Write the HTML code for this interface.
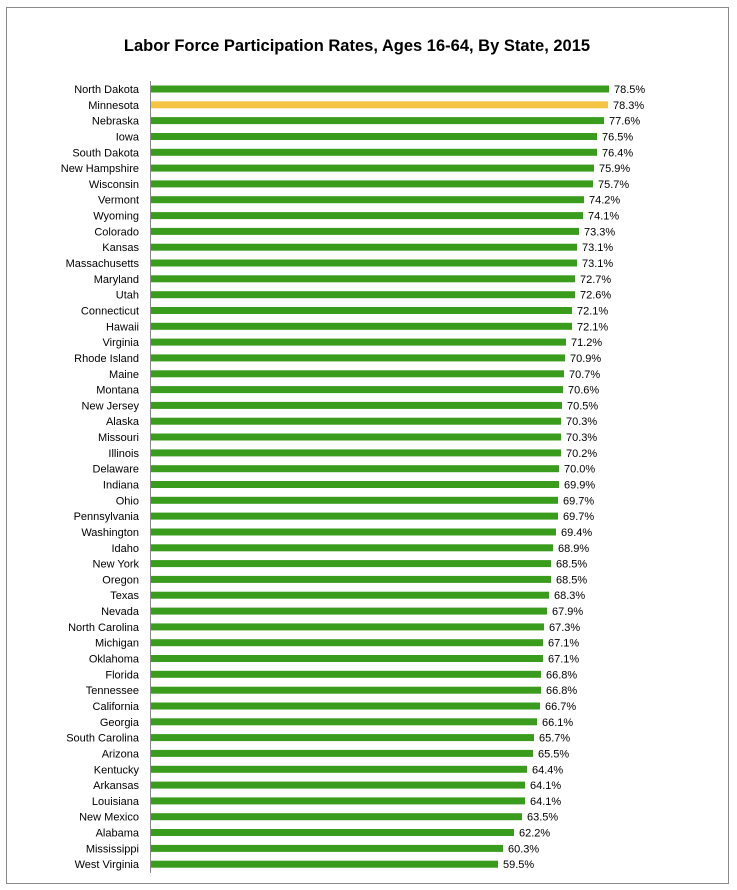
<!DOCTYPE html>
<html><head><meta charset="utf-8"><style>
html,body{margin:0;padding:0;background:#fff;}
svg{display:block;font-family:"Liberation Sans",sans-serif;}
</style></head><body>
<svg width="737" height="890" viewBox="0 0 737 890">
<rect x="6.5" y="7.5" width="722" height="876" fill="#fff" stroke="#8a8a8a" stroke-width="1"/>
<text x="357" y="51" font-size="16.5" font-weight="bold" text-anchor="middle" fill="#000">Labor Force Participation Rates, Ages 16-64, By State, 2015</text>
<line x1="150.5" y1="81" x2="150.5" y2="873" stroke="#888" stroke-width="1"/>
<g font-size="11" fill="#000">
<g text-anchor="end">
<text x="139" y="93">North Dakota</text>
<text x="139" y="108.8">Minnesota</text>
<text x="139" y="124.6">Nebraska</text>
<text x="139" y="140.5">Iowa</text>
<text x="139" y="156.3">South Dakota</text>
<text x="139" y="172.1">New Hampshire</text>
<text x="139" y="187.9">Wisconsin</text>
<text x="139" y="203.7">Vermont</text>
<text x="139" y="219.6">Wyoming</text>
<text x="139" y="235.4">Colorado</text>
<text x="139" y="251.2">Kansas</text>
<text x="139" y="267">Massachusetts</text>
<text x="139" y="282.8">Maryland</text>
<text x="139" y="298.7">Utah</text>
<text x="139" y="314.5">Connecticut</text>
<text x="139" y="330.3">Hawaii</text>
<text x="139" y="346.1">Virginia</text>
<text x="139" y="361.9">Rhode Island</text>
<text x="139" y="377.8">Maine</text>
<text x="139" y="393.6">Montana</text>
<text x="139" y="409.4">New Jersey</text>
<text x="139" y="425.2">Alaska</text>
<text x="139" y="441">Missouri</text>
<text x="139" y="456.9">Illinois</text>
<text x="139" y="472.7">Delaware</text>
<text x="139" y="488.5">Indiana</text>
<text x="139" y="504.3">Ohio</text>
<text x="139" y="520.1">Pennsylvania</text>
<text x="139" y="536">Washington</text>
<text x="139" y="551.8">Idaho</text>
<text x="139" y="567.6">New York</text>
<text x="139" y="583.4">Oregon</text>
<text x="139" y="599.2">Texas</text>
<text x="139" y="615.1">Nevada</text>
<text x="139" y="630.9">North Carolina</text>
<text x="139" y="646.7">Michigan</text>
<text x="139" y="662.5">Oklahoma</text>
<text x="139" y="678.3">Florida</text>
<text x="139" y="694.2">Tennessee</text>
<text x="139" y="710">California</text>
<text x="139" y="725.8">Georgia</text>
<text x="139" y="741.6">South Carolina</text>
<text x="139" y="757.4">Arizona</text>
<text x="139" y="773.3">Kentucky</text>
<text x="139" y="789.1">Arkansas</text>
<text x="139" y="804.9">Louisiana</text>
<text x="139" y="820.7">New Mexico</text>
<text x="139" y="836.5">Alabama</text>
<text x="139" y="852.4">Mississippi</text>
<text x="139" y="868.2">West Virginia</text>
</g>
<g fill="#3a9c1c">
<rect x="151" y="85.5" width="458" height="7"/>
<rect x="151" y="101.3" width="457" height="7" fill="#f6c443"/>
<rect x="151" y="117.1" width="453" height="7"/>
<rect x="151" y="133" width="446" height="7"/>
<rect x="151" y="148.8" width="446" height="7"/>
<rect x="151" y="164.6" width="443" height="7"/>
<rect x="151" y="180.4" width="442" height="7"/>
<rect x="151" y="196.2" width="433" height="7"/>
<rect x="151" y="212.1" width="432" height="7"/>
<rect x="151" y="227.9" width="428" height="7"/>
<rect x="151" y="243.7" width="426" height="7"/>
<rect x="151" y="259.5" width="426" height="7"/>
<rect x="151" y="275.3" width="424" height="7"/>
<rect x="151" y="291.2" width="424" height="7"/>
<rect x="151" y="307" width="421" height="7"/>
<rect x="151" y="322.8" width="421" height="7"/>
<rect x="151" y="338.6" width="415" height="7"/>
<rect x="151" y="354.4" width="414" height="7"/>
<rect x="151" y="370.3" width="413" height="7"/>
<rect x="151" y="386.1" width="412" height="7"/>
<rect x="151" y="401.9" width="411" height="7"/>
<rect x="151" y="417.7" width="410" height="7"/>
<rect x="151" y="433.5" width="410" height="7"/>
<rect x="151" y="449.4" width="410" height="7"/>
<rect x="151" y="465.2" width="408" height="7"/>
<rect x="151" y="481" width="408" height="7"/>
<rect x="151" y="496.8" width="407" height="7"/>
<rect x="151" y="512.6" width="407" height="7"/>
<rect x="151" y="528.5" width="405" height="7"/>
<rect x="151" y="544.3" width="402" height="7"/>
<rect x="151" y="560.1" width="400" height="7"/>
<rect x="151" y="575.9" width="400" height="7"/>
<rect x="151" y="591.7" width="398" height="7"/>
<rect x="151" y="607.6" width="396" height="7"/>
<rect x="151" y="623.4" width="393" height="7"/>
<rect x="151" y="639.2" width="392" height="7"/>
<rect x="151" y="655" width="392" height="7"/>
<rect x="151" y="670.8" width="390" height="7"/>
<rect x="151" y="686.7" width="390" height="7"/>
<rect x="151" y="702.5" width="389" height="7"/>
<rect x="151" y="718.3" width="386" height="7"/>
<rect x="151" y="734.1" width="383" height="7"/>
<rect x="151" y="749.9" width="382" height="7"/>
<rect x="151" y="765.8" width="376" height="7"/>
<rect x="151" y="781.6" width="374" height="7"/>
<rect x="151" y="797.4" width="374" height="7"/>
<rect x="151" y="813.2" width="371" height="7"/>
<rect x="151" y="829" width="363" height="7"/>
<rect x="151" y="844.9" width="352" height="7"/>
<rect x="151" y="860.7" width="347" height="7"/>
</g>
<g>
<text x="614" y="93">78.5%</text>
<text x="613" y="108.8">78.3%</text>
<text x="609" y="124.6">77.6%</text>
<text x="602" y="140.5">76.5%</text>
<text x="602" y="156.3">76.4%</text>
<text x="599" y="172.1">75.9%</text>
<text x="598" y="187.9">75.7%</text>
<text x="589" y="203.7">74.2%</text>
<text x="588" y="219.6">74.1%</text>
<text x="584" y="235.4">73.3%</text>
<text x="582" y="251.2">73.1%</text>
<text x="582" y="267">73.1%</text>
<text x="580" y="282.8">72.7%</text>
<text x="580" y="298.7">72.6%</text>
<text x="577" y="314.5">72.1%</text>
<text x="577" y="330.3">72.1%</text>
<text x="571" y="346.1">71.2%</text>
<text x="570" y="361.9">70.9%</text>
<text x="569" y="377.8">70.7%</text>
<text x="568" y="393.6">70.6%</text>
<text x="567" y="409.4">70.5%</text>
<text x="566" y="425.2">70.3%</text>
<text x="566" y="441">70.3%</text>
<text x="566" y="456.9">70.2%</text>
<text x="564" y="472.7">70.0%</text>
<text x="564" y="488.5">69.9%</text>
<text x="563" y="504.3">69.7%</text>
<text x="563" y="520.1">69.7%</text>
<text x="561" y="536">69.4%</text>
<text x="558" y="551.8">68.9%</text>
<text x="556" y="567.6">68.5%</text>
<text x="556" y="583.4">68.5%</text>
<text x="554" y="599.2">68.3%</text>
<text x="552" y="615.1">67.9%</text>
<text x="549" y="630.9">67.3%</text>
<text x="548" y="646.7">67.1%</text>
<text x="548" y="662.5">67.1%</text>
<text x="546" y="678.3">66.8%</text>
<text x="546" y="694.2">66.8%</text>
<text x="545" y="710">66.7%</text>
<text x="542" y="725.8">66.1%</text>
<text x="539" y="741.6">65.7%</text>
<text x="538" y="757.4">65.5%</text>
<text x="532" y="773.3">64.4%</text>
<text x="530" y="789.1">64.1%</text>
<text x="530" y="804.9">64.1%</text>
<text x="527" y="820.7">63.5%</text>
<text x="519" y="836.5">62.2%</text>
<text x="508" y="852.4">60.3%</text>
<text x="503" y="868.2">59.5%</text>
</g>
</g>
</svg>
</body></html>
